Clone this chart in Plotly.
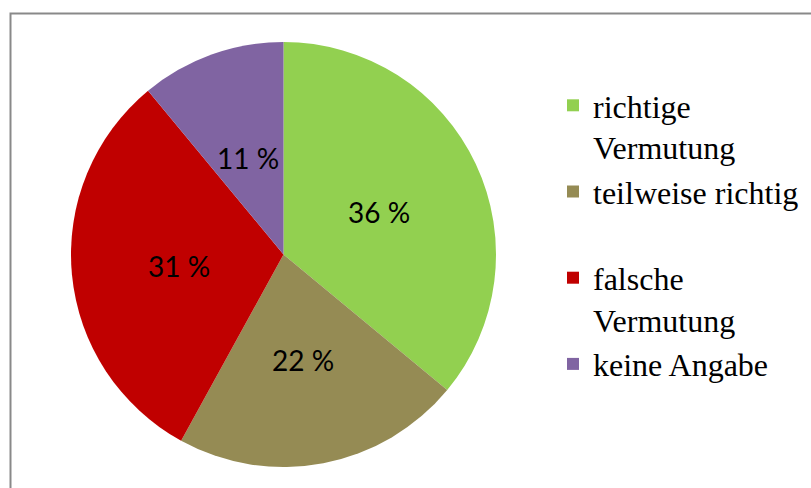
import math
import plotly.graph_objects as go

categories = ["richtige<br>Vermutung", "teilweise richtig<br> ", "falsche<br>Vermutung", "keine Angabe<br> "]
values = [36, 22, 31, 11]
colors = ["#92D050", "#958B54", "#C00000", "#8064A2"]

W, H = 811, 488
cx, cy, r = 283.5, 254.5, 212.5
SERIF = "Liberation Serif"

fig = go.Figure(go.Pie(
    labels=categories,
    values=values,
    sort=False,
    direction="clockwise",
    rotation=0,
    marker=dict(colors=colors, line=dict(width=0)),
    textinfo="none",
    domain=dict(x=[(cx - r) / W, (cx + r) / W], y=[(H - cy - r) / H, (H - cy + r) / H]),
    hoverinfo="label+percent",
))

# data labels at the mid-angle of each slice, about half the radius out
total = sum(values)
annotations = []
cum = 0
for v in values:
    mid = (cum + v / 2) / total * 2 * math.pi
    cum += v
    px = cx + 0.495 * r * math.sin(mid)
    py = cy - 0.495 * r * math.cos(mid) + 2
    annotations.append(dict(
        x=px / W, y=(H - py) / H, xref="paper", yref="paper",
        text=f"{v} %", showarrow=False,
        font=dict(family="Lato", size=28, color="black"),
        xanchor="center", yanchor="middle",
    ))

fig.update_layout(
    width=W, height=H,
    margin=dict(l=0, r=0, t=0, b=0),
    paper_bgcolor="white",
    plot_bgcolor="white",
    font=dict(family=SERIF, size=32, color="black"),
    showlegend=True,
    annotations=annotations,
    legend=dict(
        x=553 / W, xanchor="left",
        y=(H - 78) / H, yanchor="top",
        font=dict(family=SERIF, size=32, color="black"),
        valign="top",
        bgcolor="rgba(0,0,0,0)",
    ),
    shapes=[dict(
        type="rect", xref="paper", yref="paper",
        x0=10.5 / W, x1=1.02, y0=-0.02, y1=(H - 13.5) / H,
        line=dict(color="#898989", width=2),
        fillcolor="rgba(0,0,0,0)",
        layer="below",
    )],
)

fig.write_html("out.html")
